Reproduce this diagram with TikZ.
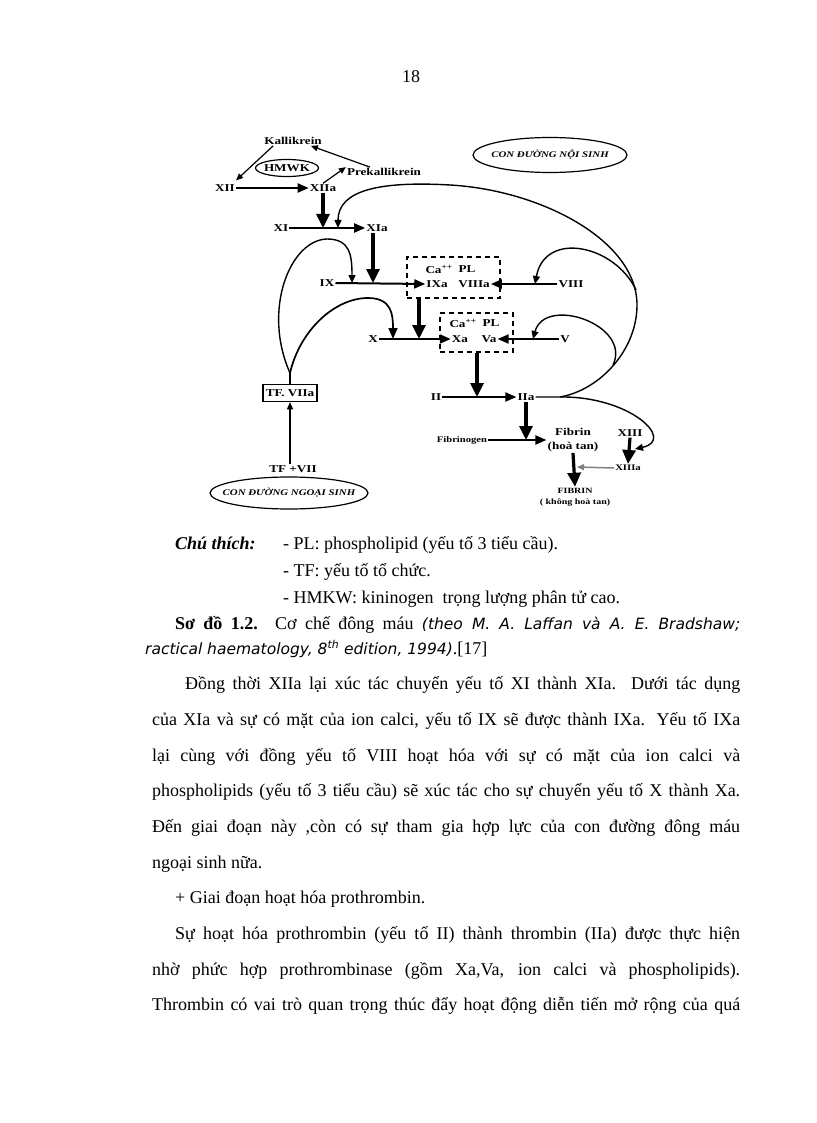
\documentclass[tikz,border=0pt]{standalone}
\usepackage{fontspec}
\setmainfont{Liberation Serif}
\newfontfamily\diagfont[FakeStretch=1.25]{Liberation Serif}
\newfontfamily\capfont{DejaVu Sans}
\usetikzlibrary{arrows.meta,shapes.geometric}
\begin{document}
\begin{tikzpicture}[x=1pt,y=-1pt,
  lab/.style={font=\diagfont\bfseries\fontsize{10.5}{14}\selectfont, inner sep=1pt},
  smalllab/.style={font=\diagfont\bfseries\fontsize{8.5}{11}\selectfont, inner sep=1pt},
  elltext/.style={font=\diagfont\bfseries\itshape\fontsize{8.7}{10}\selectfont, inner sep=1pt},
  thinarr/.style={line width=1.2pt,-{Triangle[length=7pt,width=6pt]}},
  thinc/.style={line width=1.4pt,-{Triangle[length=8pt,width=7pt]}},
  medarr/.style={line width=2pt,-{Triangle[length=11pt,width=9pt]}},
  thkarr/.style={line width=3.2pt,-{Triangle[length=14pt,width=13pt]}},
  dbox/.style={draw, dash pattern=on 5pt off 4pt, line width=1.3pt, inner sep=0pt},
  tfbox/.style={draw, line width=1.5pt, inner sep=2pt, minimum width=54pt, minimum height=17pt},
  body/.style={font=\fontsize{18}{20}\selectfont, anchor=base west, inner sep=0pt},
]
\useasboundingbox (0,0) rectangle (816,1123);
\fill[white] (0,0) rectangle (816,1123);
\newcommand\capit{\capfont\itshape\fontsize{15.5}{17}\selectfont}

% ---------- diagram nodes ----------
\node[lab] (kal) at (293,141) {Kallikrein};
\node[lab] (hmwk) at (287,168) {HMWK};
\draw[line width=1.2pt] (hmwk.center) ellipse [x radius=31.5, y radius=8.5];
\node[lab] (prek) at (384,172) {Prekallikrein};
\node[lab] (xii) at (225,188) {XII};
\node[lab] (xiia) at (323,188) {XIIa};
\node[lab] (xi) at (281,228) {XI};
\node[lab] (xia) at (377,228) {XIa};
\node[lab] (ix) at (327,283) {IX};
\node[lab] (viii) at (571,284) {VIII};
\node[dbox, minimum width=93pt, minimum height=41pt] (box1) at (453.5,277.5) {};
\node[lab] (ca1) at (439,269) {Ca\textsuperscript{++}};
\node[lab] (pl1) at (467,269) {PL};
\node[lab] (ixa) at (437,284) {IXa};
\node[lab] (viiia) at (474,284) {VIIIa};
\node[lab] (x) at (373,339) {X};
\node[lab] (v) at (565,339) {V};
\node[dbox, minimum width=73pt, minimum height=39pt] (box2) at (476.5,332.5) {};
\node[lab] (ca2) at (463,323) {Ca\textsuperscript{++}};
\node[lab] (pl2) at (491,323) {PL};
\node[lab] (xa) at (460,339) {Xa};
\node[lab] (va) at (489,339) {Va};
\node[lab] (ii) at (436,397) {II};
\node[lab] (iia) at (526,397) {IIa};
\node[smalllab] (fgen) at (462,440) {Fibrinogen};
\node[lab, align=center] (fib) at (573,440) {Fibrin\\(hoà tan)};
\node[lab] (xiii) at (630,433) {XIII};
\node[smalllab] (xiiia) at (628,468) {XIIIa};
\node[smalllab, align=center, font=\diagfont\bfseries\fontsize{8}{11}\selectfont] (fibr) at (575,497) {FIBRIN\\( không hoà tan)};
\node[tfbox, lab] (tf) at (290,393) {TF. VIIa};
\node[lab] (tfv) at (293,469) {TF +VII};
\node[elltext] (ngoai) at (289,493) {CON ĐƯỜNG NGOẠI SINH};
\draw[line width=1.2pt] (ngoai.center) ellipse [x radius=79, y radius=16];
\node[elltext] (noi) at (550,155) {CON ĐƯỜNG NỘI SINH};
\draw[line width=1.2pt] (noi.center) ellipse [x radius=77, y radius=17.5];

% ---------- junction coordinates ----------
\coordinate (jXI) at (323,228);
\coordinate (jXIb) at (338,228);
\coordinate (jIX) at (373,283);
\coordinate (jIXa) at (352,283);
\coordinate (jVIII) at (535,284);
\coordinate (mVIII) at (636,290);
\coordinate (jX) at (419,339);
\coordinate (jXb) at (393,339);
\coordinate (jV) at (533,339);
\coordinate (mV) at (613,365);
\coordinate (jII) at (477,397);
\coordinate (jF) at (526,440);
\coordinate (jXIII) at (635,449);
\coordinate (jFb) at (577,467);
\coordinate (tftop) at (290,373);
\coordinate (iaout) at (560,397);

% ---------- connectors ----------
\draw[thinarr] ([xshift=10pt]kal.south west) -- ([yshift=3pt]xii.north east);
\draw[thinarr] ([xshift=-14pt]prek.north) -- ([xshift=-12pt]kal.south east);
\draw[thinarr] (xiia.north) -- (prek.north west);
\draw[medarr] (xii.east) -- (xiia.west);
\draw[thkarr] (xiia.south) -- (jXI);
\draw[medarr] (xi.east) -- (xia.west);
\draw[thkarr] (xia.south -| jIX) -- (jIX);
\draw[medarr] (ix.east) -- (ixa.west);
\draw[medarr] (viii.west) -- (viiia.east);
\draw[thkarr] (box1.south -| jX) -- (jX);
\draw[medarr] (x.east) -- (xa.west);
\draw[medarr] (v.west) -- (va.east);
\draw[thkarr] (box2.south -| jII) -- (jII);
\draw[medarr] (ii.east) -- (iia.west);
\draw[thkarr] (iia.south) -- (jF);
\draw[medarr] (fgen.east) -- (fib.west |- fgen.east);
\draw[thkarr] (xiii.south) -- (xiiia.north);
\draw[line width=1.5pt, gray, -{Triangle[length=7pt,width=6pt]}] (xiiia.west) -- (jFb);
\draw[thkarr] (fib.south) -- (fibr.north);
\draw[thinarr] (tfv.north -| tf.south) -- (tf.south);
\draw[line width=1.8pt] (tf.north) -- (tftop);

% feedback curves
\draw[thinc] (iia.east) -- (iaout) .. controls (600,390) and (637,350) .. (637,305)
   .. controls (637,240) and (540,190) .. (450,185)
   .. controls (380,181) and (338,190) .. (jXIb);
\draw[thinc] (mVIII) .. controls (615,245) and (545,230) .. (jVIII);
\draw[thinc] (mV) .. controls (632,325) and (545,295) .. (jV);
\draw[thinc] (iaout) .. controls (630,396) and (676,440) .. (jXIII);
\draw[thinc] (tftop) .. controls (262,310) and (290,240) .. (327,239)
   .. controls (350,239) and (352,255) .. (jIXa);
\draw[line width=1.7pt, -{Triangle[length=11pt,width=9pt]}] (tftop) .. controls (300,330) and (335,298) .. (368,298)
   .. controls (392,298) and (393,315) .. (jXb);

% ---------- page text ----------
\node[body, anchor=base] (pg) at (411,83) {18};
\node[body] (ct) at (175,549) {\textbf{\textit{Chú thích:}}};
\node[body] (c1) at (283,549) {- PL: phospholipid (yếu tố 3 tiểu cầu).};
\node[body] (c2) at (283,576) {- TF: yếu tố tổ chức.};
\node[body] (c3) at (283,603) {- HMKW: kininogen\ \ trọng lượng phân tử cao.};
\node[body] (c4) at (175,629) {\makebox[565pt][s]{\textbf{Sơ đồ 1.2.} Cơ chế đông máu {\capit (theo M. A. Laffan và A. E. Bradshaw;}}};
\node[body] (c5) at (145,654) {{\capit ractical haematology, 8\textsuperscript{th} edition, 1994)}.[17]};

\node[body] (l1) at (185,689) {\makebox[555pt][s]{Đồng thời XIIa lại xúc tác chuyển yếu tố XI thành XIa. Dưới tác dụng}};
\node[body] (l2) at (152,725) {\makebox[588pt][s]{của XIa và sự có mặt của ion calci, yếu tố IX sẽ được thành IXa. Yếu tố IXa}};
\node[body] (l3) at (152,761) {\makebox[588pt][s]{lại cùng với đồng yếu tố VIII hoạt hóa với sự có mặt của ion calci và}};
\node[body] (l4) at (152,796) {\makebox[588pt][s]{phospholipids (yếu tố 3 tiểu cầu) sẽ xúc tác cho sự chuyển yếu tố X thành Xa.}};
\node[body] (l5) at (152,832) {\makebox[588pt][s]{Đến giai đoạn này ,còn có sự tham gia hợp lực của con đường đông máu}};
\node[body] (l6) at (152,868) {ngoại sinh nữa.};
\node[body] (l7) at (175,903) {+ Giai đoạn hoạt hóa prothrombin.};
\node[body] (l8) at (175,939) {\makebox[565pt][s]{Sự hoạt hóa prothrombin (yếu tố II) thành thrombin (IIa) được thực hiện}};
\node[body] (l9) at (152,975) {\makebox[588pt][s]{nhờ phức hợp prothrombinase (gồm Xa,Va, ion calci và phospholipids).}};
\node[body] (l10) at (152,1010) {\makebox[588pt][s]{Thrombin có vai trò quan trọng thúc đẩy hoạt động diễn tiến mở rộng của quá}};
\end{tikzpicture}
\end{document}
